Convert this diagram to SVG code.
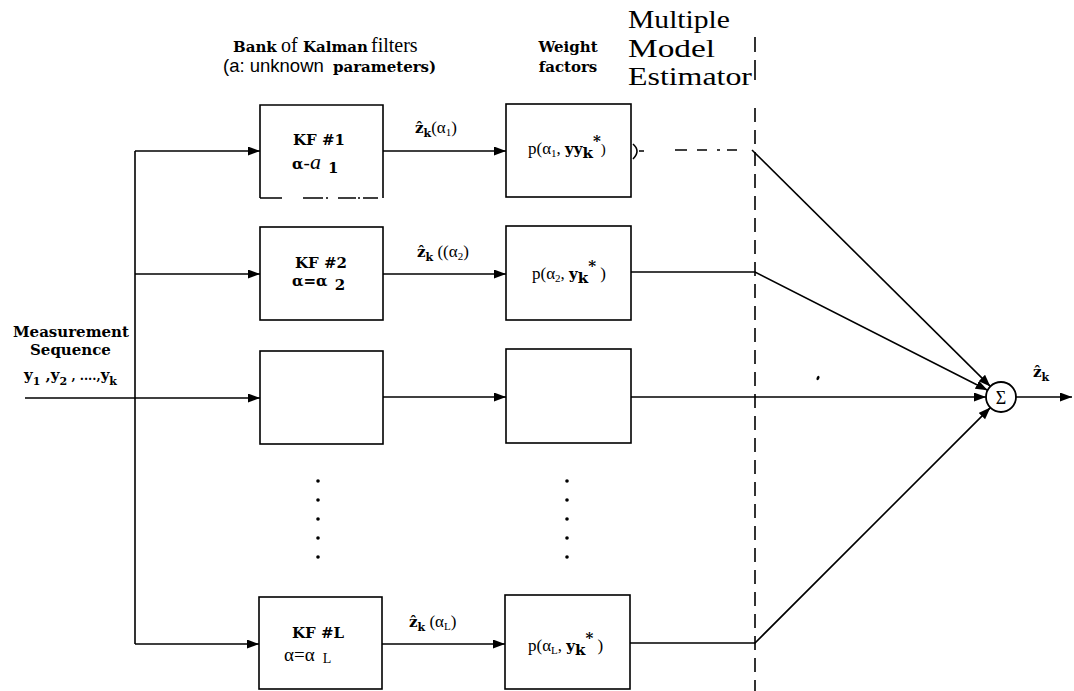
<svg xmlns="http://www.w3.org/2000/svg" width="1074" height="691" viewBox="0 0 1074 691">
<defs>
<marker id="ah" markerUnits="userSpaceOnUse" markerWidth="14" markerHeight="10" refX="12" refY="4.5" orient="auto">
<path d="M0,0 L12,4.5 L0,9 z" fill="#000"/>
</marker>
<style>
.bx{fill:none;stroke:#000;stroke-width:1.6}
.ln{fill:none;stroke:#000;stroke-width:1.6}
.ar{fill:none;stroke:#000;stroke-width:1.6;marker-end:url(#ah)}
.b{font-family:'DejaVu Serif','Liberation Serif',serif;font-weight:bold;font-size:15px;fill:#000}
.tm{font-family:'Liberation Serif','Times New Roman','DejaVu Serif',serif;font-weight:normal;fill:#000}
.s{font-family:'Liberation Sans',Arial,sans-serif;fill:#000}
.dot{fill:#000}
</style>
</defs>
<rect width="1074" height="691" fill="#fff"/>

<g id="headers">
<text y="52" font-family="Liberation Serif, Times New Roman, serif" font-size="20"><tspan x="233" class="b">Bank</tspan><tspan x="281" class="tm">of</tspan><tspan x="303" class="b">Kalman</tspan><tspan x="371" class="tm">filters</tspan></text>
<text y="72"><tspan x="223" class="s" font-size="18.5">(a: unknown</tspan><tspan x="333" class="b" font-size="14.5">parameters)</tspan></text>
<text x="568" y="52" class="b" text-anchor="middle">Weight</text>
<text x="568" y="72" class="b" text-anchor="middle">factors</text>
<text x="628" y="28" class="tm" font-size="25.5" textLength="102" lengthAdjust="spacingAndGlyphs">Multiple</text>
<text x="628" y="57" class="tm" font-size="25.5" textLength="87" lengthAdjust="spacingAndGlyphs">Model</text>
<text x="628" y="85" class="tm" font-size="25.5" textLength="124" lengthAdjust="spacingAndGlyphs">Estimator</text>
</g>

<g id="input-label">
<text x="13" y="337" class="b">Measurement</text>
<text x="30" y="355" class="b">Sequence</text>
<text x="24" y="380" class="b">y<tspan dy="5" font-size="11">1</tspan><tspan dy="-5"> ,y</tspan><tspan dy="5" font-size="11">2</tspan><tspan dy="-5" font-size="12"> , ....,</tspan>y<tspan dy="5" font-size="11">k</tspan></text>
</g>

<g id="kf1">
<path class="bx" d="M260,198 V105 H383 V198 M260,198 H282 M303,198 H323 M326,198 H328 M338,198 H356 M358,198 H360 M363,198 H378"/>
<text x="319" y="145" class="b" text-anchor="middle">KF #1</text>
<text x="292" y="169"><tspan class="b" font-size="17">α</tspan><tspan class="tm" font-size="19">-</tspan><tspan class="tm" font-style="italic" font-size="22">a</tspan><tspan class="b" font-size="14" dx="7" dy="4">1</tspan></text>
</g>
<g id="kf2">
<rect class="bx" x="260" y="227" width="123" height="93"/>
<text x="321" y="268" class="b" text-anchor="middle">KF #2</text>
<text x="292" y="286"><tspan class="b" font-size="17">α=α</tspan><tspan class="b" font-size="13" dx="7" dy="4">2</tspan></text>
</g>
<g id="kf3">
<rect class="bx" x="260" y="351" width="123" height="93"/>
</g>
<g id="kfL">
<rect class="bx" x="259" y="597" width="123" height="92"/>
<text x="318" y="638" class="b" text-anchor="middle">KF #L</text>
<text x="284" y="661" class="tm" font-size="19">α=α<tspan font-size="14" dx="8" dy="2">L</tspan></text>
</g>

<g id="w1">
<rect class="bx" x="506" y="104" width="125" height="93"/>
<text x="528" y="154" class="tm" font-size="17">p(α<tspan font-size="11" dy="3">1</tspan><tspan dy="-3">, </tspan><tspan class="b" font-size="14">yy</tspan><tspan class="b" font-size="10" dy="4">k</tspan><tspan class="b" font-size="9" dy="-12">*</tspan><tspan dy="8" font-size="15">)</tspan></text>
</g>
<g id="w2">
<rect class="bx" x="506" y="226" width="125" height="94"/>
<text x="532" y="279" class="tm" font-size="17">p(α<tspan font-size="11" dy="3">2</tspan><tspan dy="-3">, </tspan><tspan class="b" font-size="14">y</tspan><tspan class="b" font-size="10" dy="4">k</tspan><tspan class="b" font-size="9" dy="-12">*</tspan><tspan dy="8"> )</tspan></text>
</g>
<g id="w3">
<rect class="bx" x="506" y="349" width="125" height="94"/>
</g>
<g id="wL">
<rect class="bx" x="505" y="595" width="125" height="94"/>
<text x="528" y="651" class="tm" font-size="17">p(α<tspan font-size="11" dy="3">L</tspan><tspan dy="-3">, </tspan><tspan class="b" font-size="14">y</tspan><tspan class="b" font-size="10" dy="4">k</tspan><tspan class="b" font-size="9" dy="-12">*</tspan><tspan dy="8"> )</tspan></text>
</g>

<g id="sum">
<circle cx="1001" cy="397" r="15" fill="none" stroke="#000" stroke-width="1.8"/>
<text x="1001" y="403.5" class="tm" font-size="18" text-anchor="middle">Σ</text>
</g>

<g id="ellipsis">
<circle class="dot" cx="318" cy="481" r="1.8"/><circle class="dot" cx="318" cy="500" r="1.8"/><circle class="dot" cx="318" cy="519" r="1.8"/><circle class="dot" cx="318" cy="538" r="1.8"/><circle class="dot" cx="318" cy="557" r="1.8"/>
<circle class="dot" cx="567" cy="481" r="1.8"/><circle class="dot" cx="567" cy="500" r="1.8"/><circle class="dot" cx="567" cy="519" r="1.8"/><circle class="dot" cx="567" cy="538" r="1.8"/><circle class="dot" cx="567" cy="557" r="1.8"/>
<ellipse class="dot" cx="818" cy="378" rx="1.4" ry="2.2" transform="rotate(25 818 378)"/>
</g>

<g id="labels">
<text x="415" y="133" class="b" font-size="16">ẑ<tspan font-size="11" dy="4">k</tspan><tspan class="tm" font-size="17" dy="-4">(α</tspan><tspan class="tm" font-size="11" dy="3">1</tspan><tspan class="tm" font-size="17" dy="-3">)</tspan></text>
<text x="417" y="257" class="b" font-size="16">ẑ<tspan font-size="11" dy="4">k</tspan><tspan class="tm" font-size="17" dy="-4"> ((α</tspan><tspan class="tm" font-size="11" dy="3">2</tspan><tspan class="tm" font-size="17" dy="-3">)</tspan></text>
<text x="409" y="627" class="b" font-size="16">ẑ<tspan font-size="11" dy="4">k</tspan><tspan class="tm" font-size="17" dy="-4"> (α</tspan><tspan class="tm" font-size="11" dy="3">L</tspan><tspan class="tm" font-size="17" dy="-3">)</tspan></text>
<text x="1033" y="377" class="b" font-size="16">ẑ<tspan font-size="11" dy="4">k</tspan></text>
</g>

<g id="connectors">
<line class="ln" x1="135" y1="151" x2="135" y2="644"/>
<line class="ar" x1="135" y1="151" x2="260" y2="151"/>
<line class="ar" x1="135" y1="274" x2="260" y2="274"/>
<line class="ar" x1="25" y1="398" x2="260" y2="398"/>
<line class="ar" x1="135" y1="644" x2="259" y2="644"/>
<line class="ar" x1="383" y1="151" x2="506" y2="151"/>
<line class="ar" x1="383" y1="274" x2="506" y2="274"/>
<line class="ar" x1="383" y1="397" x2="506" y2="397"/>
<line class="ar" x1="382" y1="644" x2="505" y2="644"/>
<path class="ln" d="M633,144 Q641,151 633,159 M639,151 H644 M675,150 H687 M697,150 H707 M717,150 H720 M727,150 H737"/>
<line class="ar" x1="752" y1="150" x2="990.4" y2="386.4"/>
<polyline class="ar" points="631,272 755,272 987.6,390.2"/>
<line class="ar" x1="631" y1="397" x2="986" y2="397"/>
<polyline class="ar" points="630,643 755,643 990.4,407.6"/>
<line class="ar" x1="1016" y1="397" x2="1072" y2="397"/>
<path class="ln" stroke-width="2.6" d="M755,37 V52 M755,60 V80"/>
<line class="ln" stroke-width="1.5" stroke-dasharray="14 8" x1="755" y1="108" x2="755" y2="691"/>
</g>
</svg>
